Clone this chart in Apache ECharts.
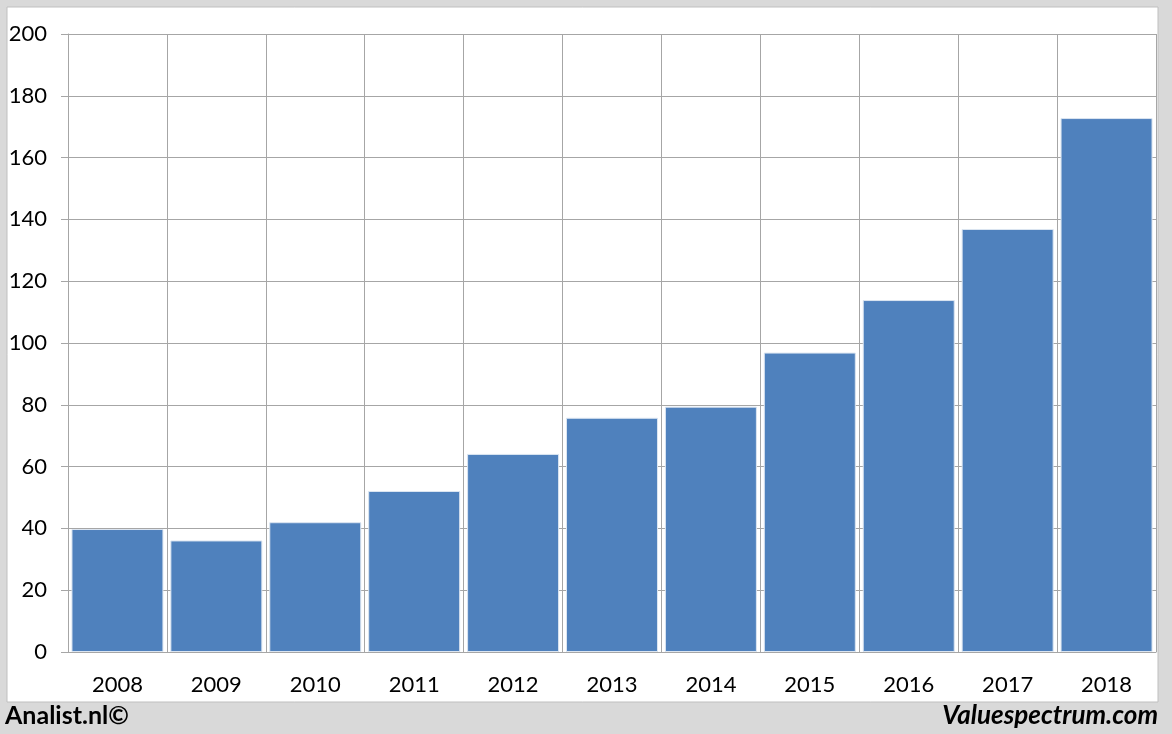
<!DOCTYPE html>
<html><head><meta charset="utf-8">
<script src="https://cdn.jsdelivr.net/npm/echarts@6/dist/echarts.min.js"></script>
<style>html,body{margin:0;padding:0;background:#d9d9d9}#c{width:1172px;height:734px}</style>
</head><body><div id="c"></div>
<script>
const categories = ['2008','2009','2010','2011','2012','2013','2014','2015','2016','2017','2018'];
const values = [39.8, 36.1, 42.0, 52.1, 64.1, 75.8, 79.4, 96.9, 113.9, 136.9, 172.8];
const yTicks = [0, 20, 40, 60, 80, 100, 120, 140, 160, 180, 200];
const footerLeft = 'Analist.nl©';
const footerRight = 'Valuespectrum.com';

const chart = echarts.init(document.getElementById('c'), null, {renderer: 'canvas'});
const font = 'Lato, "Open Sans", sans-serif';
chart.setOption({
  backgroundColor: '#d9d9d9',
  animation: false,
  graphic: [
    {type: 'rect', z: -10, shape: {x: 7, y: 7, width: 1151, height: 695}, style: {fill: '#ffffff', stroke: '#bfbfbf', lineWidth: 1}},
    {type: 'text', left: 5, top: 703, style: {text: footerLeft, font: 'bold 25px ' + font, fill: '#000'}},
    {type: 'text', right: 14, top: 703, style: {text: footerRight, font: 'italic bold 26px ' + font, fill: '#000'}}
  ],
  grid: {left: 68, right: 16, top: 34, bottom: 82},
  xAxis: {
    type: 'category', data: categories,
    axisLine: {lineStyle: {color: '#a6a6a6'}},
    axisTick: {length: 8, lineStyle: {color: '#a6a6a6'}},
    splitLine: {show: true, lineStyle: {color: '#a6a6a6'}},
    axisLabel: {color: '#000', fontSize: 22, fontFamily: font, margin: 22}
  },
  yAxis: {
    type: 'value', min: yTicks[0], max: yTicks[yTicks.length - 1], interval: 20,
    axisLine: {show: true, lineStyle: {color: '#a6a6a6'}},
    axisTick: {show: true, length: 7, lineStyle: {color: '#a6a6a6'}},
    splitLine: {show: true, lineStyle: {color: '#a6a6a6'}},
    axisLabel: {color: '#000', fontSize: 22, fontFamily: font, margin: 21}
  },
  series: [{
    type: 'bar', data: values, barCategoryGap: '7%',
    itemStyle: {color: '#4f81bd', borderColor: '#dbe5f1', borderWidth: 1}
  }]
});
</script></body></html>
